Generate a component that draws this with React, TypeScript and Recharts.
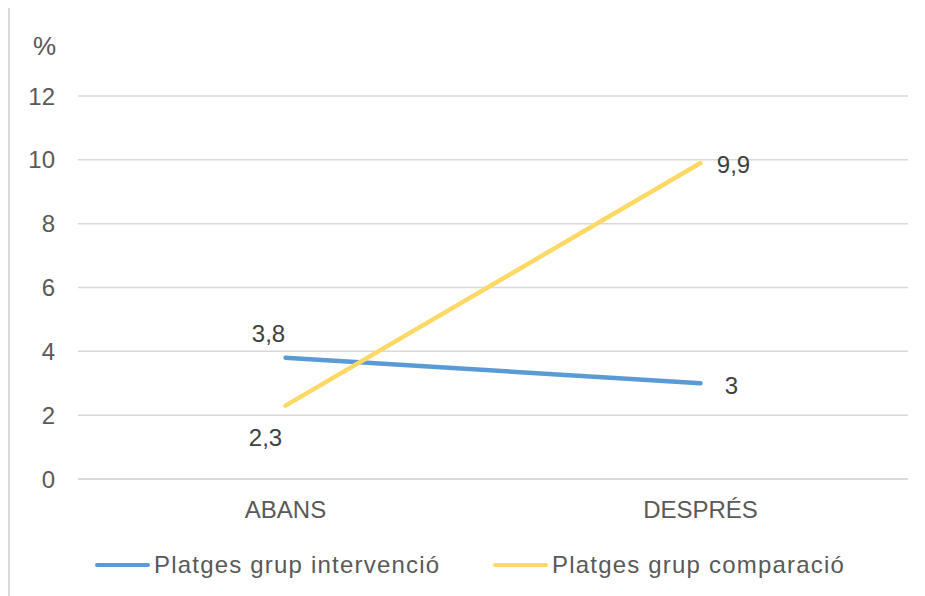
import { LineChart, Line, XAxis, YAxis, CartesianGrid, LabelList } from "recharts";

const categories = ["ABANS", "DESPRÉS"];
const intervencio = [3.8, 3];
const comparacio = [2.3, 9.9];
const yTicks = [0, 2, 4, 6, 8, 10, 12];

const data = categories.map((c, i) => ({
  cat: c,
  intervencio: intervencio[i],
  comparacio: comparacio[i],
}));

const FONT = "'Liberation Sans', Arial, sans-serif";
const TEXT = "#595959";
const BLUE = "#5B9BD5";
const YELLOW = "#FFD966";

// label offsets per point (first point / last point)
const makeLabel = (offsets: { dx: number; dy: number }[]) => (props: any) => {
  const { x, y, value, index } = props;
  const o = offsets[index];
  return (
    <text
      x={x + o.dx}
      y={y + o.dy}
      textAnchor="middle"
      dominantBaseline="central"
      fontSize={24}
      fill="#404040"
      fontFamily={FONT}
    >
      {String(value).replace(".", ",")}
    </text>
  );
};

const legendItems = [
  { label: "Platges grup intervenció", color: BLUE, left: 85 },
  { label: "Platges grup comparació", color: YELLOW, left: 483 },
];

export default function App() {
  return (
    <div
      style={{
        position: "relative",
        width: 915,
        height: 588,
        marginTop: -2,
        borderLeft: "2px solid #D9D9D9",
        borderTop: "2px solid #D9D9D9",
        fontFamily: FONT,
        background: "#fff",
      }}
    >
      <div style={{ position: "absolute", left: 23, top: 25, fontSize: 26, lineHeight: 1, color: TEXT }}>%</div>
      <LineChart
        width={905}
        height={580}
        data={data}
        margin={{ top: 88, right: 7, bottom: 69, left: 0 }}
      >
        <CartesianGrid vertical={false} stroke="#D9D9D9" strokeWidth={1.5} />
        <XAxis
          dataKey="cat"
          scale="band"
          axisLine={{ stroke: "#D9D9D9", strokeWidth: 1.5 }}
          tickLine={false}
          tickSize={0}
          tickMargin={22}
          height={40}
          tick={{ fontSize: 24, fill: TEXT, fontFamily: FONT }}
        />
        <YAxis
          domain={[0, 12]}
          ticks={yTicks}
          axisLine={false}
          tickLine={false}
          tickSize={0}
          tickMargin={23}
          width={68}
          tick={{ fontSize: 24, fill: TEXT, fontFamily: FONT }}
        />
        <Line
          dataKey="intervencio"
          stroke={BLUE}
          strokeWidth={4.5}
          strokeLinecap="round"
          dot={false}
          activeDot={false}
          isAnimationActive={false}
        >
          <LabelList
            dataKey="intervencio"
            content={makeLabel([
              { dx: -17, dy: -24 },
              { dx: 31, dy: 2 },
            ])}
          />
        </Line>
        <Line
          dataKey="comparacio"
          stroke={YELLOW}
          strokeWidth={4.5}
          strokeLinecap="round"
          dot={false}
          activeDot={false}
          isAnimationActive={false}
        >
          <LabelList
            dataKey="comparacio"
            content={makeLabel([
              { dx: -20, dy: 32 },
              { dx: 33, dy: 1 },
            ])}
          />
        </Line>
      </LineChart>

      {/* legend */}
      {legendItems.map((it) => (
        <div
          key={it.label}
          style={{
            position: "absolute",
            top: 545,
            left: it.left,
            display: "flex",
            alignItems: "center",
            fontSize: 24,
            lineHeight: 1,
            letterSpacing: 1.2,
            color: TEXT,
            whiteSpace: "nowrap",
          }}
        >
          <span style={{ display: "inline-block", width: 55, height: 4.5, borderRadius: 3, background: it.color, marginRight: 4 }} />
          <span>{it.label}</span>
        </div>
      ))}
    </div>
  );
}
